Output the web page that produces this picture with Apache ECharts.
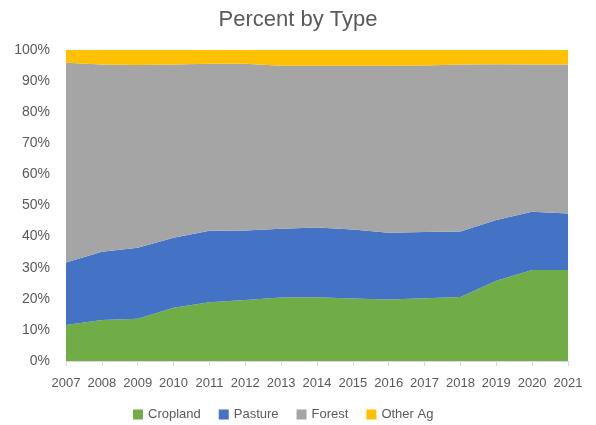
<!DOCTYPE html>
<html>
<head>
<meta charset="utf-8">
<script src="https://cdn.jsdelivr.net/npm/echarts@6/dist/echarts.min.js"></script>
<style>
  html, body { margin: 0; padding: 0; background: #fff; }
  #chart { width: 596px; height: 425px; }
</style>
</head>
<body>
<div id="chart"></div>
<script>
const years = ['2007', '2008', '2009', '2010', '2011', '2012', '2013', '2014',
  '2015', '2016', '2017', '2018', '2019', '2020', '2021'];

// percent shares per year
const cropland = [11.6, 13.2, 13.6, 17.1, 18.9, 19.6, 20.4, 20.5, 20.1, 19.8, 20.2, 20.6, 25.8, 29.3, 29.3];
const pasture = [20.1, 21.9, 22.8, 22.5, 23.0, 22.4, 22.1, 22.4, 22.2, 21.4, 21.3, 21.0, 19.5, 18.7, 18.1];
const forest = [64.2, 60.2, 58.8, 55.7, 53.7, 53.6, 52.4, 52.0, 52.6, 53.7, 53.5, 53.7, 50.1, 47.3, 47.9];
const otherAg = [4.1, 4.7, 4.8, 4.7, 4.4, 4.4, 5.1, 5.1, 5.1, 5.1, 5.0, 4.7, 4.6, 4.7, 4.7];

const font = 'Liberation Sans';
const textColor = '#595959';

function areaSeries(name, data, color) {
  return {
    name: name,
    type: 'line',
    stack: 'total',
    data: data,
    symbol: 'none',
    lineStyle: { width: 0 },
    areaStyle: { color: color, opacity: 1 },
    itemStyle: { color: color },
  };
}

const myChart = echarts.init(document.getElementById('chart'));
myChart.setOption({
  animation: false,
  title: {
    text: 'Percent by Type',
    left: 'center',
    top: 4,
    textStyle: { fontFamily: font, fontSize: 22, fontWeight: 'normal', color: textColor },
  },
  legend: {
    left: 128,
    top: 403,
    itemWidth: 10,
    itemHeight: 10,
    itemGap: 18,
    icon: 'rect',
    textStyle: { fontFamily: font, fontSize: 13, color: textColor },
    data: ['Cropland', 'Pasture', 'Forest', 'Other Ag'],
  },
  grid: {
    left: 66,
    right: 28,
    top: 50,
    bottom: 64,
  },
  xAxis: {
    type: 'category',
    data: years,
    boundaryGap: false,
    axisLine: { lineStyle: { color: '#d9d9d9' } },
    axisTick: { show: true, length: 5, lineStyle: { color: '#d9d9d9' } },
    axisLabel: { fontFamily: font, fontSize: 13, color: textColor, margin: 16, interval: 0 },
  },
  yAxis: {
    type: 'value',
    min: 0,
    max: 100,
    interval: 10,
    splitLine: { show: false },
    axisLine: { show: false },
    axisTick: { show: false },
    axisLabel: {
      fontFamily: font, fontSize: 14, color: textColor, margin: 16,
      formatter: (v) => v + '%',
    },
  },
  series: [
    areaSeries('Cropland', cropland, '#70AD47'),
    areaSeries('Pasture', pasture, '#4472C4'),
    areaSeries('Forest', forest, '#A5A5A5'),
    areaSeries('Other Ag', otherAg, '#FFC000'),
  ],
});
</script>
</body>
</html>
